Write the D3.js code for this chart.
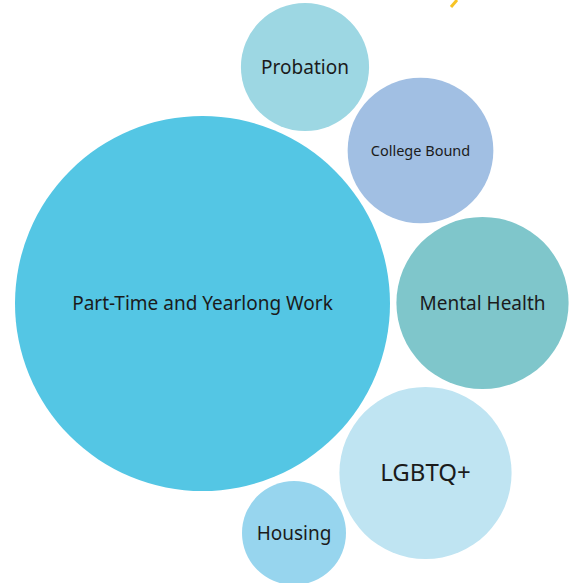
<!DOCTYPE html>
<html>
<head>
<meta charset="utf-8">
<script src="https://cdn.jsdelivr.net/npm/d3@7"></script>
<style>
  body { margin: 0; background: #fff; }
  svg { display: block; }
  .label { font-family: "Noto Sans", sans-serif; fill: #1b1b1b; text-anchor: middle; }
</style>
</head>
<body>
<div class="chart"></div>
<script>
// data
var categories = ["Part-Time and Yearlong Work", "Probation", "College Bound", "Mental Health", "LGBTQ+", "Housing"];
var values = [351, 41, 53, 74, 74, 27];
var colors = ["#54c6e4", "#9dd7e3", "#a1bfe3", "#7fc6cb", "#bfe4f2", "#97d5ee"];

// layout (circle centres + label sizes)
var centers = [[202.5, 303.5], [305, 67], [420.5, 150.5], [482.5, 303], [425.5, 473], [294, 533]];
var fontSizes = [19, 19, 14.5, 19, 24, 19];

var width = 576, height = 583;

var r = d3.scaleSqrt()
    .domain([0, d3.max(values)])
    .range([0, 187.5]);

var data = categories.map(function(c, i) {
  return { name: c, value: values[i], color: colors[i], cx: centers[i][0], cy: centers[i][1], fs: fontSizes[i] };
});

var svg = d3.select(".chart").append("svg")
    .attr("width", width)
    .attr("height", height);

// little yellow stroke peeking in at the top
svg.append("path")
    .attr("d", "M457,0 L451,7")
    .attr("stroke", "#f7c325")
    .attr("stroke-width", 3);

var node = svg.selectAll(".node")
    .data(data)
  .enter().append("g")
    .attr("class", "node")
    .attr("transform", function(d) { return "translate(" + d.cx + "," + d.cy + ")"; });

node.append("circle")
    .attr("r", function(d) { return r(d.value); })
    .attr("fill", function(d) { return d.color; });

node.append("text")
    .attr("class", "label")
    .attr("dy", "0.35em")
    .style("font-size", function(d) { return d.fs + "px"; })
    .text(function(d) { return d.name; });
</script>
</body>
</html>
